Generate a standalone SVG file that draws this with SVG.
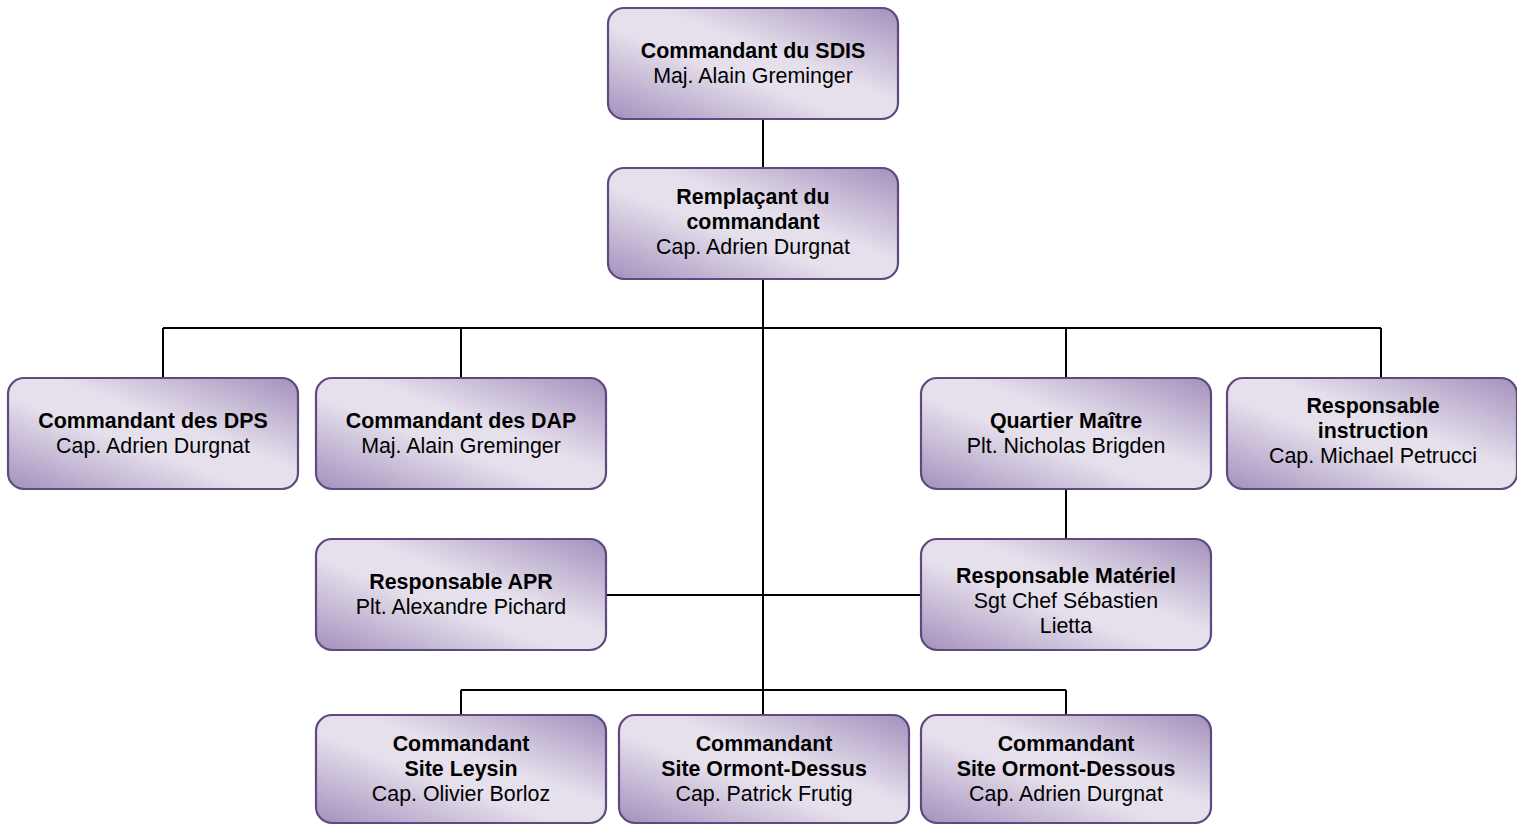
<svg xmlns="http://www.w3.org/2000/svg" width="1517" height="825" viewBox="0 0 1517 825">
<defs>
<linearGradient id="g" x1="1" y1="0" x2="0" y2="1">
<stop offset="0" stop-color="#a390bd"/>
<stop offset="0.42" stop-color="#e6e0ec"/>
<stop offset="0.58" stop-color="#e6e0ec"/>
<stop offset="1" stop-color="#a390bd"/>
</linearGradient>
</defs>
<style>
.box{fill:url(#g);stroke:#5e4a7e;stroke-width:2.2}
.t{font-family:"Liberation Sans",Arial,sans-serif;font-size:21.4px;fill:#000;text-anchor:middle}
.b{font-weight:bold}
.c{fill:none;stroke:#000;stroke-width:2}
</style>
<rect width="1517" height="825" fill="#fff"/>
<g id="connectors">
<path class="c" d="M763 120V168M763 280V715M163 328H1381M163 328V378M461 328V378M1066 328V378M1381 328V378M606 595H920M1066 490V539M461 690H1066M461 690V715M1066 690V715"/>
</g>
<g id="n1"><rect class="box" x="608" y="8" width="290" height="111" rx="16"/>
<text class="t b" x="753" y="58">Commandant du SDIS</text><text class="t" x="753" y="83">Maj. Alain Greminger</text></g>
<g id="n2"><rect class="box" x="608" y="168" width="290" height="111" rx="16"/>
<text class="t b" x="753" y="204">Remplaçant du</text><text class="t b" x="753" y="229">commandant</text><text class="t" x="753" y="254">Cap. Adrien Durgnat</text></g>
<g id="n3"><rect class="box" x="8" y="378" width="290" height="111" rx="16"/>
<text class="t b" x="153" y="428">Commandant des DPS</text><text class="t" x="153" y="453">Cap. Adrien Durgnat</text></g>
<g id="n4"><rect class="box" x="316" y="378" width="290" height="111" rx="16"/>
<text class="t b" x="461" y="428">Commandant des DAP</text><text class="t" x="461" y="453">Maj. Alain Greminger</text></g>
<g id="n5"><rect class="box" x="921" y="378" width="290" height="111" rx="16"/>
<text class="t b" x="1066" y="428">Quartier Maître</text><text class="t" x="1066" y="453">Plt. Nicholas Brigden</text></g>
<g id="n6"><rect class="box" x="1227" y="378" width="290" height="111" rx="16"/>
<text class="t b" x="1373" y="413">Responsable</text><text class="t b" x="1373" y="438">instruction</text><text class="t" x="1373" y="463">Cap. Michael Petrucci</text></g>
<g id="n7"><rect class="box" x="316" y="539" width="290" height="111" rx="16"/>
<text class="t b" x="461" y="589">Responsable APR</text><text class="t" x="461" y="614">Plt. Alexandre Pichard</text></g>
<g id="n8"><rect class="box" x="921" y="539" width="290" height="111" rx="16"/>
<text class="t b" x="1066" y="583">Responsable Matériel</text><text class="t" x="1066" y="608">Sgt Chef Sébastien</text><text class="t" x="1066" y="633">Lietta</text></g>
<g id="n9"><rect class="box" x="316" y="715" width="290" height="108" rx="16"/>
<text class="t b" x="461" y="751">Commandant</text><text class="t b" x="461" y="776">Site Leysin</text><text class="t" x="461" y="801">Cap. Olivier Borloz</text></g>
<g id="n10"><rect class="box" x="619" y="715" width="290" height="108" rx="16"/>
<text class="t b" x="764" y="751">Commandant</text><text class="t b" x="764" y="776">Site Ormont-Dessus</text><text class="t" x="764" y="801">Cap. Patrick Frutig</text></g>
<g id="n11"><rect class="box" x="921" y="715" width="290" height="108" rx="16"/>
<text class="t b" x="1066" y="751">Commandant</text><text class="t b" x="1066" y="776">Site Ormont-Dessous</text><text class="t" x="1066" y="801">Cap. Adrien Durgnat</text></g>
</svg>
